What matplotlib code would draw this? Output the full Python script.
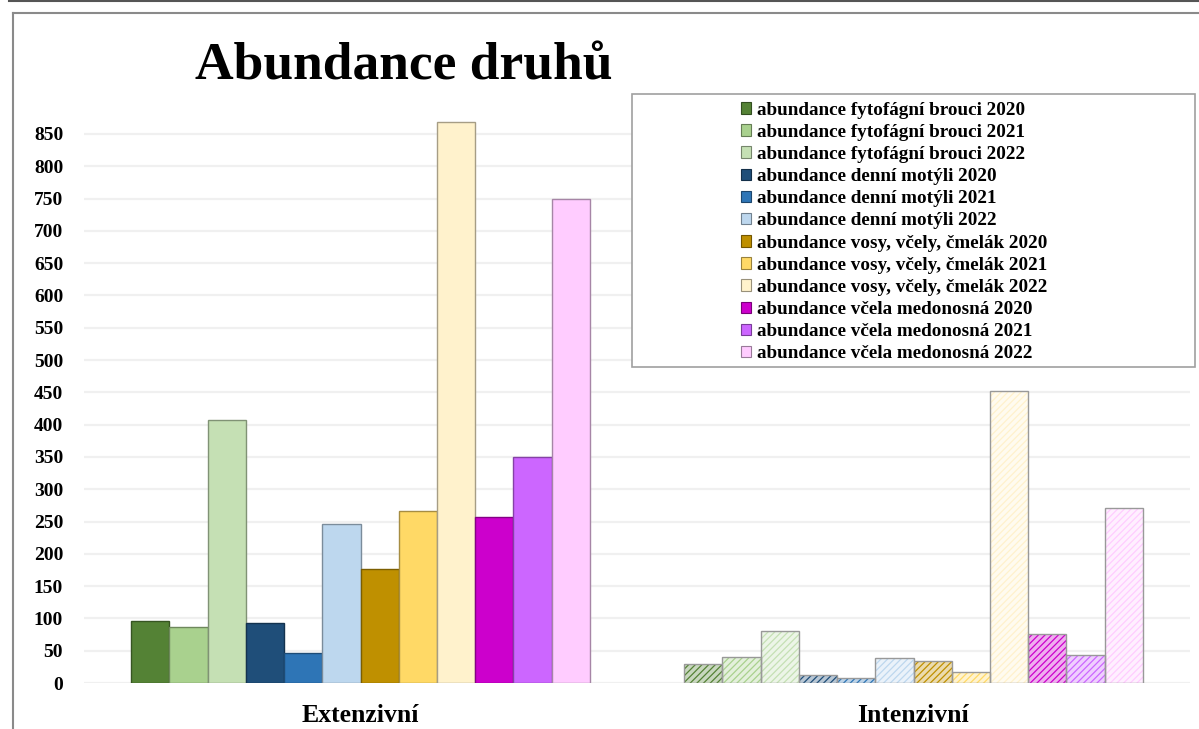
import matplotlib
matplotlib.use("Agg")
import matplotlib.pyplot as plt
from matplotlib.patches import Patch, Rectangle
from matplotlib.lines import Line2D
from matplotlib.colors import to_rgb
import numpy as np

categories = ["Extenzivní", "Intenzivní"]
series_labels = [
    "abundance fytofágní brouci 2020",
    "abundance fytofágní brouci 2021",
    "abundance fytofágní brouci 2022",
    "abundance denní motýli 2020",
    "abundance denní motýli 2021",
    "abundance denní motýli 2022",
    "abundance vosy, včely, čmelák 2020",
    "abundance vosy, včely, čmelák 2021",
    "abundance vosy, včely, čmelák 2022",
    "abundance včela medonosná 2020",
    "abundance včela medonosná 2021",
    "abundance včela medonosná 2022",
]
extenzivni = [96, 87, 407, 93, 46, 246, 176, 266, 869, 257, 350, 749]
intenzivni = [29, 41, 80, 13, 7, 38, 34, 17, 452, 76, 43, 271]
colors = ["#548235", "#A9D18E", "#C5E0B4",
          "#1F4E79", "#2E75B6", "#BDD7EE",
          "#BF9000", "#FFD966", "#FFF2CC",
          "#CC00CC", "#CC66FF", "#FFCCFF"]
yticks = list(range(0, 851, 50))

SERIF = "Liberation Serif"
plt.rcParams["hatch.linewidth"] = 0.9

W, H = 1199, 729
fig = plt.figure(figsize=(W / 100, H / 100), dpi=100)
ax = fig.add_axes([84 / W, (H - 683) / H, 1106 / W, (683 - 114.6) / H])

n = len(series_labels)
group_w = 0.83
bw = group_w / n
x = np.arange(len(categories))

def tint(c, f=0.6):
    r = np.array(to_rgb(c))
    return tuple(r + (1 - r) * f)

def darker(c, f=0.3):
    r = np.array(to_rgb(c))
    return tuple(r * (1 - f))

for i in range(n):
    xs = x - group_w / 2 + bw * (i + 0.5)
    vals = [extenzivni[i], intenzivni[i]]
    bars = ax.bar(xs, vals, width=bw, color=colors[i],
                  edgecolor=darker(colors[i], 0.35), linewidth=1.0, zorder=3)
    # hatched style for the second category
    p = bars[1]
    p.set_facecolor(tint(colors[i], 0.68))
    p.set_edgecolor(colors[i])
    p.set_hatch("/////")
    p.set_linewidth(0)
    ax.add_patch(Rectangle(p.get_xy(), p.get_width(), p.get_height(),
                           fill=False, edgecolor=(0.6, 0.6, 0.6),
                           linewidth=1.0, zorder=4))

ax.set_xlim(-0.5, 1.5)
ax.set_ylim(0, 880)
ax.set_yticks(yticks)
ax.set_yticklabels([str(v) for v in yticks], fontfamily=SERIF,
                   fontweight="bold", fontsize=14)
ax.set_xticks(x)
ax.set_xticklabels(categories, fontfamily=SERIF, fontweight="bold",
                   fontsize=18.5)
ax.tick_params(axis="y", length=0, pad=15)
ax.tick_params(axis="x", length=0, pad=15)
ax.grid(axis="y", color="#f0f0f0", linewidth=1.6, zorder=0)
ax.set_axisbelow(True)
for s in ax.spines.values():
    s.set_visible(False)

# Title
fig.text(195 / W, 1 - 79 / H, "Abundance druhů", fontfamily=SERIF,
         fontweight="bold", fontsize=38.5, ha="left", va="baseline")

# Legend frame and legend
lx0, ly0, lx1, ly1 = 632, 94, 1195, 367
fig.add_artist(Rectangle((lx0 / W, 1 - ly1 / H), (lx1 - lx0) / W,
                         (ly1 - ly0) / H, transform=fig.transFigure,
                         facecolor="white", edgecolor="#a0a0a0",
                         linewidth=1.2, zorder=5))
handles = [Patch(facecolor=c, edgecolor=darker(c, 0.4), linewidth=0.8)
           for c in colors]
leg = fig.legend(handles, series_labels, loc="center",
                 bbox_to_anchor=(894 / W, 1 - 232 / H),
                 frameon=False, prop={"family": SERIF, "weight": "bold",
                                      "size": 13.8},
                 handlelength=0.55, handleheight=0.55, handletextpad=0.3,
                 labelspacing=0.27, borderpad=0)
leg.set_zorder(6)

# Outer frame lines
fig.add_artist(Line2D([9 / W, 1], [1 - 0.6 / H, 1 - 0.6 / H],
                      transform=fig.transFigure, color="#555555", linewidth=1.5))
fig.add_artist(Line2D([13 / W, 1], [1 - 13 / H, 1 - 13 / H],
                      transform=fig.transFigure, color="#8a8a8a", linewidth=1.5))
fig.add_artist(Line2D([13 / W, 13 / W], [0, 1 - 13 / H],
                      transform=fig.transFigure, color="#8a8a8a", linewidth=1.5))

fig.savefig("out.png", dpi=100)
